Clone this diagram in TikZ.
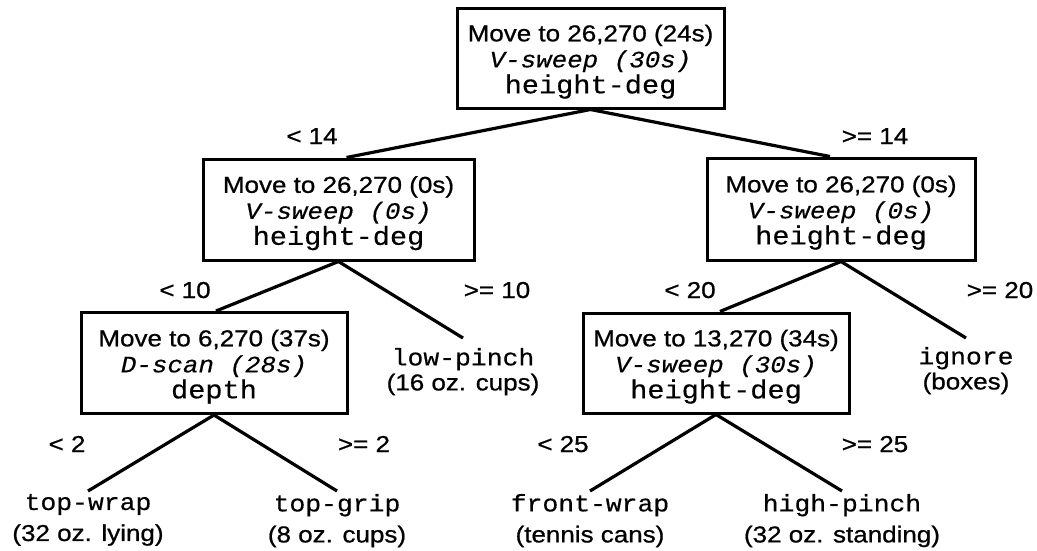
\documentclass[tikz,border=0pt]{standalone}
\usepackage{fontspec}
\newfontfamily\hvfont{Liberation Sans}[FakeStretch=1.13,FakeBold=0.8]
\newfontfamily\cofont{Liberation Mono}[FakeStretch=1.1,FakeBold=0.4]
\newcommand\fsans{\hvfont\fontsize{23}{26}\selectfont}
\newcommand\fmono{\cofont\upshape\fontsize{26}{26}\selectfont}
\newcommand\fleaf{\cofont\upshape\fontsize{24}{26}\selectfont}
\newcommand\fital{\cofont\itshape\fontsize{23.5}{26}\selectfont}
\newcommand\topstrut{\rule{0pt}{24pt}}
\newcommand\leafstrut{\rule{0pt}{15pt}}
\begin{document}
\begin{tikzpicture}[x=1pt,y=-1pt,
  dbox/.style={draw, line width=3pt, align=center, inner sep=0pt, font=\fsans},
  leaf/.style={align=center, anchor=north, inner xsep=0pt, outer sep=0pt, font=\fsans},
  lbl/.style={anchor=base, font=\fsans},
  edge/.style={line width=3.2pt}]
\useasboundingbox (0,0) rectangle (1037,550);

% decision boxes
\node[dbox, minimum width=267pt, minimum height=100pt] (root) at (590.5,58)
  {\fsans\topstrut Move to 26,270 (24s)\\ \fital V-sweep (30s)\\ \fmono height-deg};
\node[dbox, minimum width=271pt, minimum height=101pt] (lm) at (338.5,209.5)
  {\fsans\topstrut Move to 26,270 (0s)\\ \fital V-sweep (0s)\\ \fmono height-deg};
\node[dbox, minimum width=268pt, minimum height=102pt] (rm) at (841,209)
  {\fsans\topstrut Move to 26,270 (0s)\\ \fital V-sweep (0s)\\ \fmono height-deg};
\node[dbox, minimum width=266pt, minimum height=101pt] (lb) at (214,363)
  {\fsans\topstrut Move to 6,270 (37s)\\ \fital D-scan (28s)\\ \fmono depth};
\node[dbox, minimum width=266pt, minimum height=100pt] (rb) at (716,363)
  {\fsans\topstrut Move to 13,270 (34s)\\ \fital V-sweep (30s)\\ \fmono height-deg};

% leaves
\node[leaf, inner ysep=10pt] (lp) at (463,338)
  {\fleaf\leafstrut low-pinch\\[-1pt]\fsans (16 oz. cups)};
\node[leaf, inner ysep=9pt] (ig) at (966,338)
  {\fleaf\leafstrut ignore\\[-1pt]\fsans (boxes)};
\node[leaf, inner ysep=3pt] (tw) at (88,491)
  {\fleaf\leafstrut top-wrap\\[5pt]\fsans (32 oz. lying)};
\node[leaf, inner ysep=3pt] (tg) at (337,491)
  {\fleaf\leafstrut top-grip\\[5pt]\fsans (8 oz. cups)};
\node[leaf, inner ysep=3pt] (fw) at (590,491)
  {\fleaf\leafstrut front-wrap\\[5pt]\fsans (tennis cans)};
\node[leaf, inner ysep=3pt] (hp) at (842,491)
  {\fleaf\leafstrut high-pinch\\[5pt]\fsans (32 oz. standing)};

% connectors
\draw[edge] (root.south) -- ([xshift=8pt]lm.north);
\draw[edge] (root.south) -- ([xshift=-11pt]rm.north);
\draw[edge] (lm.south) -- ([xshift=2pt]lb.north);
\draw[edge] (lm.south) -- (lp.north);
\draw[edge] (rm.south) -- ([xshift=4pt]rb.north);
\draw[edge] (rm.south) -- (ig.north);
\draw[edge] (lb.south) -- (tw.north);
\draw[edge] (lb.south) -- (tg.north);
\draw[edge] (rb.south) -- (fw.north);
\draw[edge] (rb.south) -- (hp.north);

% branch labels
\node[lbl] (l14) at (312,144) {< 14};
\node[lbl] (g14) at (875,144) {>= 14};
\node[lbl] (l10) at (185,298) {< 10};
\node[lbl] (g10) at (497,298) {>= 10};
\node[lbl] (l20) at (690,298) {< 20};
\node[lbl] (g20) at (1000,298) {>= 20};
\node[lbl] (l2) at (67,452) {< 2};
\node[lbl] (g2) at (364,452) {>= 2};
\node[lbl] (l25) at (563,452) {< 25};
\node[lbl] (g25) at (875,452) {>= 25};
\end{tikzpicture}
\end{document}
